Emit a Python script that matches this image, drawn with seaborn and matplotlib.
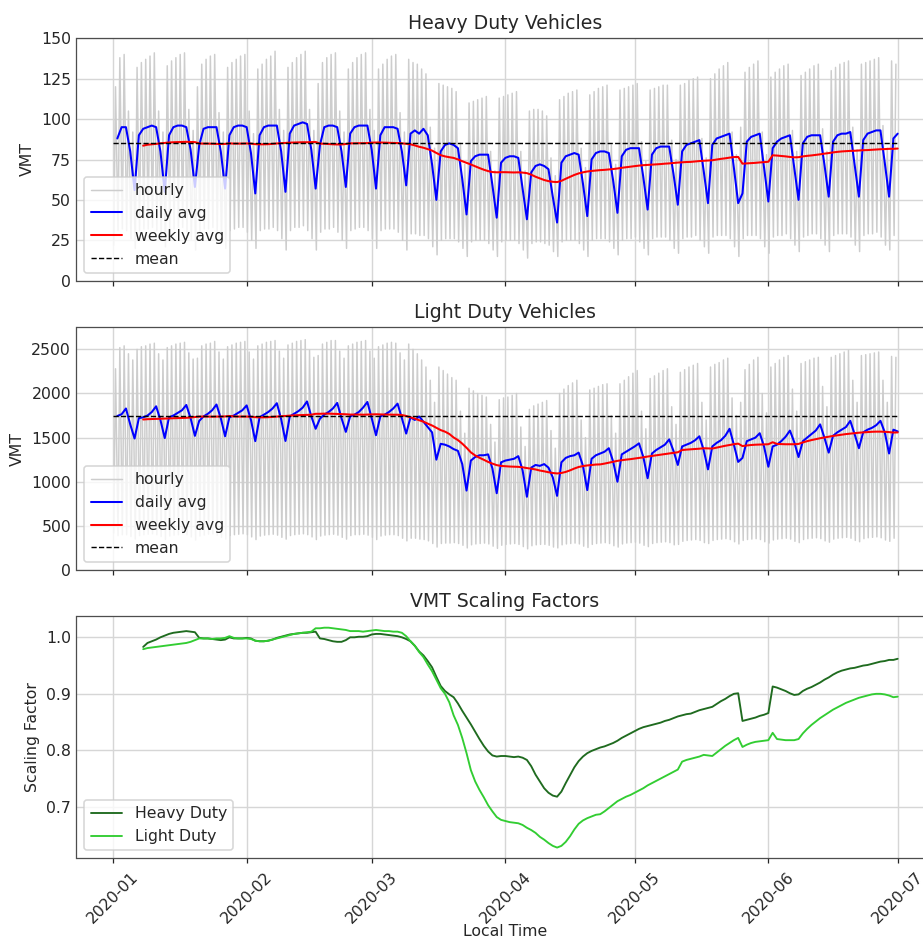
import numpy as np
import pandas as pd
import matplotlib
matplotlib.use("Agg")
import matplotlib.pyplot as plt
import matplotlib.dates as mdates
import seaborn as sns

# ---------------------------------------------------------------- data
days = pd.date_range("2020-01-01", "2020-06-30", freq="D")

# Daily mean VMT, heavy duty (Wed Jan 1 .. Sun Jan 5, then Mon..Sun weeks)
hd_daily = [
    88, 95, 95, 80, 56,
    90, 94, 95, 96, 95, 80, 55,
    90, 95, 96, 96, 95, 81, 58,
    84, 94, 95, 95, 95, 80, 57,
    90, 95, 96, 96, 95, 79, 54,
    90, 95, 96, 96, 96, 80, 55,
    91, 96, 97, 98, 97, 81, 57,
    84, 95, 96, 96, 95, 80, 58,
    91, 95, 96, 96, 96, 81, 57,
    90, 95, 95, 95, 94, 80, 59,
    91, 93, 91, 94, 90, 72, 50,
    80, 84, 85, 84, 82, 63, 41,
    74, 77, 78, 78, 78, 59, 39,
    73, 76, 77, 77, 76, 57, 38,
    67, 71, 72, 71, 69, 52, 36,
    73, 77, 78, 79, 78, 60, 40,
    75, 79, 80, 80, 79, 62, 42,
    77, 81, 82, 82, 82, 64, 44,
    78, 82, 83, 83, 83, 66, 47,
    80, 84, 85, 86, 87, 68, 48,
    84, 88, 89, 90, 91, 70, 48,
    54, 86, 89, 90, 91, 70, 49,
    82, 86, 88, 89, 90, 70, 50,
    85, 89, 90, 90, 90, 72, 52,
    86, 90, 91, 91, 92, 72, 52,
    87, 91, 92, 93, 93, 73, 52,
    88, 91,
]

# Daily hourly maximum / minimum, heavy duty
hd_peak = [
    120, 138, 140, 105, 92,
    132, 135, 137, 139, 141, 105, 92,
    133, 136, 138, 140, 141, 106, 93,
    120, 134, 137, 139, 140, 104, 92,
    132, 135, 137, 139, 140, 105, 91,
    131, 134, 137, 139, 142, 106, 93,
    132, 135, 138, 140, 142, 106, 93,
    122, 135, 138, 140, 141, 105, 92,
    131, 135, 138, 140, 141, 106, 93,
    131, 134, 137, 139, 140, 104, 92,
    137, 135, 134, 131, 128, 95, 82,
    122, 121, 120, 119, 117, 85, 72,
    110, 111, 112, 113, 114, 80, 68,
    113, 114, 115, 116, 117, 80, 68,
    105, 106, 106, 105, 102, 76, 65,
    112, 114, 116, 117, 118, 82, 70,
    115, 117, 119, 120, 121, 84, 72,
    118, 119, 120, 121, 122, 86, 74,
    118, 119, 120, 121, 121, 87, 75,
    121, 122, 124, 125, 126, 88, 76,
    125, 128, 131, 133, 135, 92, 78,
    95, 129, 132, 134, 136, 92, 78,
    126, 129, 131, 133, 134, 93, 80,
    127, 129, 131, 133, 134, 94, 80,
    130, 132, 134, 135, 136, 95, 81,
    134, 135, 136, 137, 138, 96, 82,
    136, 134,
]
hd_trough = [
    22, 31, 32, 31, 26,
    20, 31, 32, 32, 33, 31, 26,
    21, 31, 32, 33, 33, 30, 25,
    19, 30, 32, 32, 33, 31, 26,
    20, 31, 32, 33, 33, 30, 25,
    20, 31, 32, 32, 33, 31, 26,
    19, 31, 33, 33, 34, 31, 26,
    19, 30, 32, 32, 33, 30, 25,
    20, 31, 32, 33, 33, 31, 26,
    20, 31, 32, 32, 32, 30, 25,
    19, 29, 29, 28, 28, 26, 21,
    16, 25, 26, 26, 26, 24, 20,
    15, 24, 25, 25, 25, 23, 19,
    15, 24, 25, 25, 25, 23, 19,
    14, 23, 24, 24, 23, 22, 18,
    15, 24, 25, 25, 25, 23, 19,
    15, 25, 26, 26, 26, 24, 20,
    16, 25, 26, 26, 27, 24, 20,
    16, 26, 27, 27, 27, 25, 20,
    17, 26, 27, 27, 28, 25, 21,
    17, 27, 28, 28, 28, 26, 21,
    15, 26, 28, 28, 28, 26, 21,
    17, 27, 28, 28, 29, 26, 22,
    18, 27, 28, 29, 29, 26, 22,
    18, 28, 29, 29, 29, 27, 22,
    18, 28, 29, 29, 30, 27, 22,
    19, 28,
]

# Daily mean VMT, light duty
ld_daily = [
    1745, 1765, 1830, 1650, 1490,
    1720, 1730, 1750, 1790, 1855, 1700, 1495,
    1730, 1750, 1780, 1810, 1870, 1720, 1520,
    1690, 1740, 1770, 1810, 1875, 1720, 1515,
    1730, 1750, 1780, 1810, 1865, 1700, 1460,
    1730, 1760, 1790, 1830, 1890, 1710, 1462,
    1740, 1770, 1800, 1840, 1910, 1740, 1600,
    1715, 1760, 1790, 1830, 1893, 1720, 1565,
    1740, 1760, 1790, 1840, 1904, 1720, 1527,
    1740, 1760, 1790, 1830, 1885, 1720, 1546,
    1730, 1700, 1740, 1680, 1620, 1560, 1250,
    1430, 1420, 1400, 1370, 1350, 1200, 900,
    1240, 1280, 1300, 1300, 1310, 1150, 870,
    1220, 1240, 1250, 1260, 1290, 1130, 830,
    1160, 1190, 1180, 1200, 1160, 1050, 840,
    1220, 1270, 1290, 1300, 1330, 1180, 905,
    1260, 1300, 1320, 1340, 1380, 1230, 1000,
    1310, 1340, 1370, 1400, 1435, 1280, 1040,
    1320, 1360, 1390, 1420, 1480, 1350, 1190,
    1400, 1420, 1440, 1470, 1515, 1360, 1140,
    1400, 1440, 1470, 1520, 1600, 1420, 1225,
    1270, 1460, 1480, 1500, 1550, 1400, 1170,
    1400, 1420, 1460, 1510, 1580, 1450, 1280,
    1460, 1500, 1540, 1580, 1650, 1500, 1330,
    1520, 1560, 1590, 1620, 1690, 1540, 1380,
    1560, 1590, 1610, 1640, 1690, 1560, 1320,
    1590, 1570,
]

# Daily hourly maximum / minimum, light duty
ld_peak = [
    2280, 2520, 2540, 2450, 2380,
    2500, 2530, 2540, 2560, 2570, 2450, 2380,
    2520, 2540, 2560, 2570, 2580, 2460, 2390,
    2400, 2540, 2560, 2570, 2590, 2470, 2390,
    2530, 2550, 2570, 2580, 2590, 2470, 2390,
    2540, 2560, 2580, 2590, 2600, 2480, 2400,
    2550, 2570, 2590, 2600, 2610, 2490, 2410,
    2430, 2560, 2580, 2600, 2600, 2480, 2400,
    2540, 2560, 2580, 2590, 2600, 2480, 2400,
    2530, 2550, 2570, 2580, 2570, 2460, 2380,
    2560, 2500, 2450, 2380, 2300, 2150, 1900,
    2300, 2260, 2220, 2180, 2150, 1800, 1550,
    2060, 2030, 2000, 1980, 1960, 1650, 1450,
    1930, 1950, 1960, 1980, 2000, 1620, 1400,
    1820, 1860, 1880, 1900, 1920, 1580, 1380,
    2000, 2050, 2090, 2120, 2150, 1700, 1500,
    2040, 2060, 2080, 2100, 2110, 1750, 1550,
    2110, 2150, 2190, 2230, 2260, 1800, 1600,
    2170, 2200, 2230, 2260, 2280, 1850, 1650,
    2240, 2270, 2300, 2320, 2340, 1900, 1700,
    2300, 2330, 2350, 2380, 2400, 1950, 1750,
    1900, 2270, 2330, 2380, 2410, 2000, 1780,
    2300, 2340, 2380, 2410, 2430, 2050, 1800,
    2340, 2360, 2380, 2400, 2410, 2080, 1850,
    2410, 2430, 2450, 2470, 2490, 2150, 1900,
    2430, 2440, 2450, 2460, 2470, 2150, 1900,
    2420, 2410,
]
ld_trough = [
    420, 390, 400, 400, 380,
    350, 390, 400, 405, 410, 400, 380,
    345, 385, 395, 400, 410, 400, 375,
    340, 385, 395, 405, 410, 395, 370,
    350, 390, 400, 405, 410, 400, 375,
    345, 385, 395, 400, 405, 395, 370,
    350, 390, 400, 405, 410, 400, 375,
    345, 385, 395, 400, 405, 395, 370,
    350, 390, 400, 400, 405, 395, 370,
    345, 385, 395, 400, 400, 390, 360,
    330, 360, 360, 350, 345, 330, 300,
    260, 300, 305, 305, 310, 300, 280,
    250, 285, 295, 300, 305, 295, 270,
    245, 280, 290, 295, 300, 290, 265,
    240, 275, 285, 290, 290, 280, 260,
    250, 285, 295, 300, 305, 295, 270,
    255, 290, 300, 305, 310, 300, 275,
    260, 295, 305, 310, 315, 305, 280,
    265, 300, 310, 315, 320, 310, 285,
    290, 325, 335, 340, 345, 335, 310,
    300, 335, 345, 350, 355, 345, 320,
    295, 335, 345, 350, 355, 345, 320,
    305, 340, 350, 355, 360, 350, 325,
    310, 345, 355, 360, 365, 355, 330,
    315, 350, 360, 365, 370, 360, 335,
    320, 355, 365, 370, 375, 365, 340,
    325, 360,
]

# Long-term means of the hourly series
hd_mean = 85.0
ld_mean = 1742.0

# 7-day scaling factors (weekly avg / mean), Jan 8 .. Jul 1
hd_scale = [
    0.983, 0.990, 0.993, 0.996, 1.000, 1.003, 1.006,
    1.008, 1.009, 1.010, 1.011, 1.010, 1.009, 0.999,
    0.998, 0.998, 0.997, 0.996, 0.995, 0.996, 1.000,
    0.998, 0.998, 0.998, 0.999, 0.998, 0.994, 0.993,
    0.993, 0.994, 0.996, 0.999, 1.001, 1.003, 1.005,
    1.006, 1.007, 1.008, 1.008, 1.009, 1.010, 0.998,
    0.997, 0.995, 0.993, 0.992, 0.992, 0.995, 1.000,
    1.000, 1.001, 1.001, 1.002, 1.005, 1.006, 1.006,
    1.005, 1.004, 1.003, 1.002, 1.000, 0.997, 0.993,
    0.985, 0.975, 0.968, 0.958, 0.947, 0.930, 0.914,
    0.905, 0.899, 0.894, 0.883, 0.870, 0.858, 0.846,
    0.833, 0.820, 0.808, 0.798, 0.791, 0.789, 0.790,
    0.790, 0.789, 0.788, 0.789, 0.787, 0.783, 0.772,
    0.757, 0.745, 0.733, 0.725, 0.720, 0.718, 0.727,
    0.742, 0.756, 0.770, 0.781, 0.789, 0.795, 0.799,
    0.802, 0.805, 0.807, 0.810, 0.813, 0.817, 0.822,
    0.826, 0.830, 0.834, 0.838, 0.841, 0.843, 0.845,
    0.847, 0.849, 0.852, 0.854, 0.857, 0.860, 0.862,
    0.864, 0.865, 0.868, 0.871, 0.873, 0.875, 0.877,
    0.882, 0.887, 0.891, 0.896, 0.900, 0.901, 0.852,
    0.854, 0.856, 0.858, 0.861, 0.863, 0.866, 0.913,
    0.911, 0.908, 0.905, 0.901, 0.898, 0.899, 0.905,
    0.909, 0.912, 0.916, 0.920, 0.925, 0.929, 0.934,
    0.938, 0.941, 0.943, 0.945, 0.946, 0.948, 0.950,
    0.951, 0.953, 0.955, 0.957, 0.958, 0.960, 0.960,
    0.962,
]
ld_scale = [
    0.979, 0.981, 0.982, 0.983, 0.984, 0.985, 0.986,
    0.987, 0.988, 0.989, 0.990, 0.992, 0.995, 0.998,
    0.998, 0.998, 0.997, 0.998, 0.998, 0.999, 1.002,
    0.999, 0.998, 0.998, 0.998, 0.997, 0.994, 0.993,
    0.993, 0.994, 0.996, 0.998, 1.000, 1.002, 1.004,
    1.006, 1.007, 1.008, 1.009, 1.010, 1.016, 1.016,
    1.017, 1.017, 1.016, 1.015, 1.014, 1.013, 1.011,
    1.011, 1.011, 1.010, 1.011, 1.012, 1.013, 1.012,
    1.011, 1.011, 1.010, 1.010, 1.008, 1.002, 0.993,
    0.985, 0.974, 0.965, 0.952, 0.940, 0.925, 0.910,
    0.900, 0.885, 0.862, 0.845, 0.822, 0.795, 0.765,
    0.745, 0.730, 0.717, 0.703, 0.692, 0.682, 0.677,
    0.675, 0.673, 0.672, 0.671, 0.668, 0.663, 0.659,
    0.654, 0.647, 0.642, 0.636, 0.631, 0.628, 0.631,
    0.638, 0.648, 0.660, 0.670, 0.676, 0.680, 0.683,
    0.686, 0.687, 0.692, 0.698, 0.704, 0.710, 0.714,
    0.718, 0.721, 0.725, 0.729, 0.733, 0.738, 0.742,
    0.746, 0.750, 0.754, 0.758, 0.762, 0.766, 0.780,
    0.783, 0.785, 0.787, 0.789, 0.792, 0.791, 0.790,
    0.796, 0.802, 0.808, 0.813, 0.818, 0.822, 0.806,
    0.810, 0.813, 0.815, 0.816, 0.817, 0.818, 0.831,
    0.820, 0.819, 0.818, 0.818, 0.818, 0.820, 0.830,
    0.838, 0.845, 0.851, 0.857, 0.862, 0.867, 0.872,
    0.876, 0.880, 0.884, 0.887, 0.890, 0.893, 0.895,
    0.897, 0.899, 0.900, 0.900, 0.899, 0.897, 0.894,
    0.895,
]

# ---------------------------------------------------------------- frames
one_day = pd.Timedelta(days=1)
day_end = days + one_day                 # trailing daily mean stamped at day end
scale_time = days[6:] + one_day          # first full 7-day window ends Jan 8


def hourly_frame(peaks, troughs):
    """Alternate night minimum and afternoon maximum for each day."""
    t = np.empty(2 * len(days), dtype="datetime64[ns]")
    t[0::2] = (days + pd.Timedelta(hours=4)).values
    t[1::2] = (days + pd.Timedelta(hours=14)).values
    v = np.empty(2 * len(days))
    v[0::2] = troughs
    v[1::2] = peaks
    return pd.DataFrame({"time": t, "vmt": v})


panels = [
    dict(title="Heavy Duty Vehicles", hourly=hourly_frame(hd_peak, hd_trough),
         daily=pd.DataFrame({"time": day_end, "vmt": hd_daily}),
         weekly=pd.DataFrame({"time": scale_time, "vmt": np.array(hd_scale) * hd_mean}),
         mean=hd_mean, ylim=(0, 150), yticks=np.arange(0, 151, 25)),
    dict(title="Light Duty Vehicles", hourly=hourly_frame(ld_peak, ld_trough),
         daily=pd.DataFrame({"time": day_end, "vmt": ld_daily}),
         weekly=pd.DataFrame({"time": scale_time, "vmt": np.array(ld_scale) * ld_mean}),
         mean=ld_mean, ylim=(0, 2750), yticks=np.arange(0, 2501, 500)),
]

scale_df = pd.DataFrame({"time": scale_time, "Heavy Duty": hd_scale, "Light Duty": ld_scale})

# ---------------------------------------------------------------- style
sns.set_style("whitegrid", {
    "axes.edgecolor": "0.3",
    "grid.color": "0.84",
    "xtick.bottom": True,
    "ytick.left": False,
})
plt.rcParams["font.family"] = ["DejaVu Sans"]
plt.rcParams["xtick.major.size"] = 3.5
plt.rcParams["xtick.major.width"] = 0.8
plt.rcParams["xtick.color"] = "0.15"
plt.rcParams["ytick.major.size"] = 0

DPI = 113
fig = plt.figure(figsize=(924 / DPI, 941 / DPI), dpi=DPI)

W, H = 924.0, 941.0
left_px = 76.5
x0_px, x1_px = 113.0, 897.7          # pixel positions of Jan 1 and Jul 1
rows_px = [(38.3, 280.7), (327.3, 570.0), (616.0, 858.3)]
axes = []
for top, bot in rows_px:
    axes.append(fig.add_axes([left_px / W, 1 - bot / H,
                              1 - left_px / W, (bot - top) / H]))

px_per_day = (x1_px - x0_px) / (day_end[-1] - days[0]).days
x_lo = days[0] - pd.Timedelta(days=(x0_px - left_px) / px_per_day)
x_hi = days[0] + pd.Timedelta(days=(W - x0_px) / px_per_day)

for ax, p in zip(axes[:2], panels):
    sns.lineplot(data=p["hourly"], x="time", y="vmt", ax=ax, color="#cdcdcd",
                 linewidth=0.95, label="hourly", estimator=None, sort=False)
    sns.lineplot(data=p["daily"], x="time", y="vmt", ax=ax, color="blue",
                 linewidth=1.3, label="daily avg", estimator=None, sort=False)
    sns.lineplot(data=p["weekly"], x="time", y="vmt", ax=ax, color="red",
                 linewidth=1.3, label="weekly avg", estimator=None, sort=False)
    mean_df = pd.DataFrame({"time": [days[0], day_end[-1]], "vmt": [p["mean"]] * 2})
    sns.lineplot(data=mean_df, x="time", y="vmt", ax=ax, color="black",
                 linewidth=0.9, linestyle="--", label="mean", estimator=None)
    ax.set_title(p["title"], fontsize=12, x=(505 - left_px) / (W - left_px))
    ax.set_ylabel("VMT")
    ax.set_xlabel("")
    ax.set_ylim(*p["ylim"])
    ax.set_yticks(p["yticks"])
    ax.legend(loc="lower left", frameon=True, framealpha=0.8, edgecolor="0.8")

ax3 = axes[2]
sns.lineplot(data=scale_df, x="time", y="Heavy Duty", ax=ax3, color="#1f6b1f",
             linewidth=1.2, label="Heavy Duty", estimator=None, sort=False)
sns.lineplot(data=scale_df, x="time", y="Light Duty", ax=ax3, color="limegreen",
             linewidth=1.2, label="Light Duty", estimator=None, sort=False)
ax3.set_title("VMT Scaling Factors", fontsize=12, x=(505 - left_px) / (W - left_px))
ax3.set_ylabel("Scaling Factor")
ax3.set_xlabel("Local Time", labelpad=-1.5)
ax3.xaxis.set_label_coords((505 - left_px) / (W - left_px), -0.27)
ax3.set_ylim(0.609, 1.0377)
ax3.set_yticks([0.7, 0.8, 0.9, 1.0])
ax3.legend(loc="lower left", frameon=True, framealpha=0.8, edgecolor="0.8")

for ax in axes:
    ax.set_xlim(x_lo, x_hi)
    ax.xaxis.set_major_locator(mdates.MonthLocator())
    ax.xaxis.set_major_formatter(mdates.DateFormatter("%Y-%m"))
    ax.grid(True, color="0.84", linewidth=0.9)
    ax.spines["right"].set_visible(False)
for ax in axes[:2]:
    ax.tick_params(axis="x", labelbottom=False)
for lbl in ax3.get_xticklabels():
    lbl.set_rotation(45)

fig.savefig("out.png", dpi=DPI)
